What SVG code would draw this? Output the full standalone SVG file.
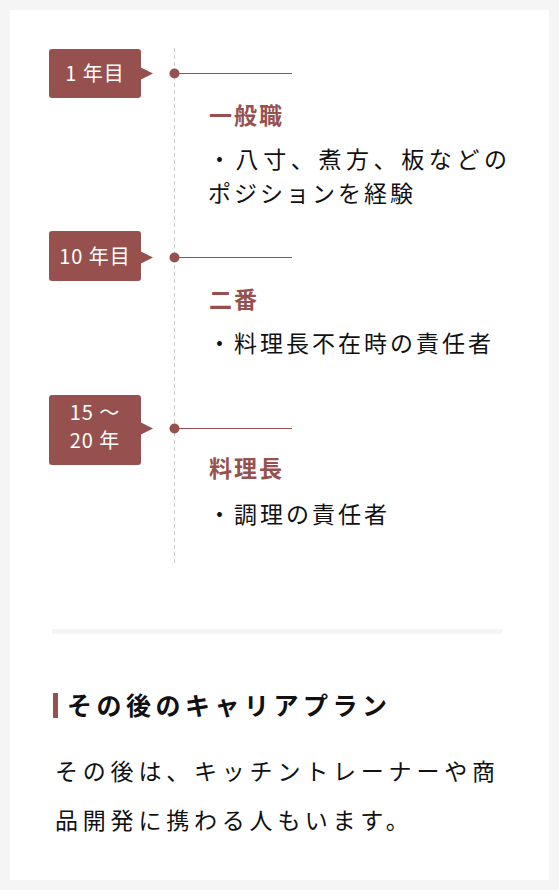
<svg xmlns="http://www.w3.org/2000/svg" width="559" height="890" viewBox="0 0 559 890">
<defs>
<style>
.lbl{fill:#fff;font-family:"Noto Sans CJK JP","Noto Sans",sans-serif;font-size:20px;letter-spacing:1px;}
.box{fill:#96514e;}
.dot{fill:#96514e;}
.hl{stroke:#96514e;stroke-width:1;}
.h{fill:#96514e;font-family:"Noto Sans CJK JP",sans-serif;font-size:23px;font-weight:bold;letter-spacing:2px;}
.b{fill:#111;font-family:"Noto Sans CJK JP",sans-serif;font-size:23px;letter-spacing:3px;}
.t{fill:#111;font-family:"Noto Sans CJK JP",sans-serif;font-size:25px;font-weight:bold;letter-spacing:4.5px;}
.p{fill:#111;font-family:"Noto Sans CJK JP",sans-serif;font-size:23px;letter-spacing:4.8px;}
</style>
</defs>
<rect x="0" y="0" width="559" height="890" fill="#f5f5f5"/>
<rect x="10" y="10" width="539" height="870" fill="#fff"/>
<g id="connectors">
<line x1="174.5" y1="48" x2="174.5" y2="563" stroke="#ccc" stroke-width="1" stroke-dasharray="4,3"/>
<line class="hl" x1="174" y1="73.5" x2="292" y2="73.5"/>
<line class="hl" x1="174" y1="257.5" x2="292" y2="257.5"/>
<line class="hl" x1="174" y1="428.5" x2="292" y2="428.5"/>
</g>
<g id="year1">
<rect class="box" x="49" y="49" width="92" height="49" rx="3"/>
<polygon class="box" points="140,67 153,73.5 140,80"/>
<text class="lbl" x="95" y="81" text-anchor="middle">1 年目</text>
<circle class="dot" cx="174.5" cy="73.5" r="5"/>
</g>
<g id="year10">
<rect class="box" x="49" y="231" width="92" height="50" rx="3"/>
<polygon class="box" points="140,251 153,257.5 140,264"/>
<text class="lbl" x="95" y="264" text-anchor="middle">10 年目</text>
<circle class="dot" cx="174.5" cy="257.5" r="5"/>
</g>
<g id="year15">
<rect class="box" x="49" y="395" width="92" height="70" rx="3"/>
<polygon class="box" points="140,422 153,428.5 140,435"/>
<text class="lbl" x="95" y="420" text-anchor="middle">15 ～</text>
<text class="lbl" x="95" y="448" text-anchor="middle">20 年</text>
<circle class="dot" cx="174.5" cy="428.5" r="5"/>
</g>
<g id="stage1">
<text class="h" x="209" y="124">一般職</text>
<text class="b" x="208" y="168" textLength="299" lengthAdjust="spacing" style="letter-spacing:0">・八寸、煮方、板などの</text>
<text class="b" x="208" y="202">ポジションを経験</text>
</g>
<g id="stage2">
<text class="h" x="209" y="308">二番</text>
<text class="b" x="208" y="352">・料理長不在時の責任者</text>
</g>
<g id="stage3">
<text class="h" x="209" y="477">料理長</text>
<text class="b" x="208" y="523">・調理の責任者</text>
</g>
<rect x="52" y="629" width="450" height="5" fill="#f5f5f5"/>
<g id="career">
<rect x="53" y="693" width="5" height="25" fill="#96514e"/>
<text class="t" x="67" y="715">その後のキャリアプラン</text>
<text class="p" x="55" y="780">その後は、キッチントレーナーや商</text>
<text class="p" x="55" y="829">品開発に携わる人もいます。</text>
</g>
</svg>
